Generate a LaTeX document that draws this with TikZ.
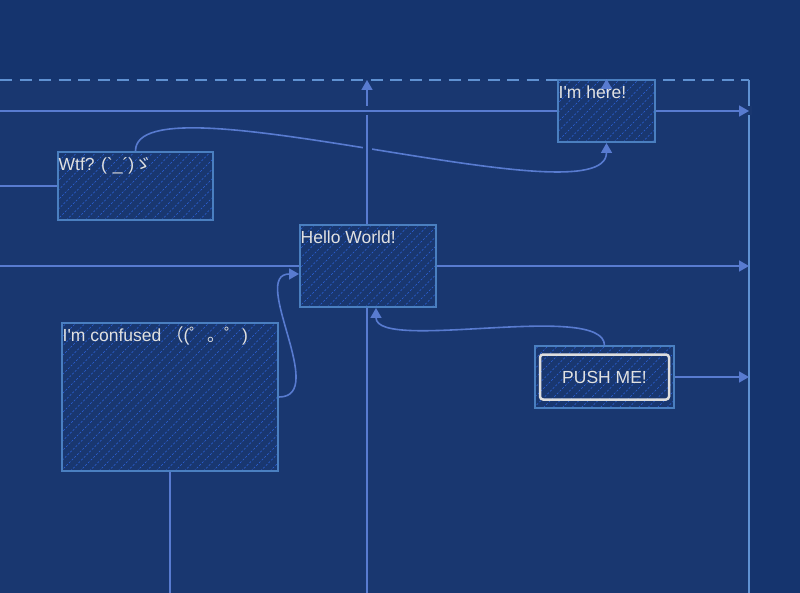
\documentclass[tikz,border=0pt]{standalone}
\usepackage{fontspec}
\setmainfont{Liberation Sans}[Ligatures=TeXOff]
\newfontfamily\cjk{Noto Sans CJK JP}
\usetikzlibrary{arrows.meta}
\pgfdeclarelayer{back}
\pgfdeclarelayer{lines}
\pgfsetlayers{back,lines,main}
\definecolor{bgout}{RGB}{21,52,110}
\definecolor{bgin}{RGB}{25,55,112}
\definecolor{framec}{RGB}{95,145,210}
\definecolor{boxc}{RGB}{74,127,192}
\definecolor{connc}{RGB}{88,123,208}
\definecolor{hatchc}{RGB}{45,100,220}
\definecolor{txtc}{RGB}{225,225,225}
\definecolor{btnc}{RGB}{222,222,222}
\begin{document}
\begin{tikzpicture}[x=1pt,y=-1pt,
  txtfont/.style={font=\fontsize{17.5pt}{20pt}\selectfont},
  frame/.style={draw=framec, line width=2pt},
  conn/.style={draw=connc, line width=1.6pt},
  arr/.style={conn, -{Triangle[length=10pt,width=11pt]}},
  halo/.style={draw=bgin, line width=9pt},
  hatchbox/.style={draw=boxc, line width=2pt, fill=bgin, inner sep=0pt,
    path picture={\foreach \k in {0,9.5,...,440}{
      \draw[hatchc, line width=0.65pt, dash pattern=on 2pt off 1.8pt]
        ([xshift=\k pt-210pt]path picture bounding box.south west) -- ++(220pt,220pt);}}},
  lbl/.style={txtfont, text=txtc, anchor=base west, inner sep=0pt, xshift=1.5pt, yshift=-19.5pt},
  btn/.style={draw=btnc, line width=2.5pt, rounded corners=3pt, minimum width=129pt,
    minimum height=45pt, inner sep=0pt, text=txtc, txtfont}
]
\useasboundingbox (0,0) rectangle (800,593);
\begin{pgfonlayer}{back}
  \fill[bgout] (0,0) rectangle (800,593);
  \fill[bgin] (0,80) rectangle (749,593);
\end{pgfonlayer}

% boxes
\node[hatchbox, minimum width=97pt, minimum height=62pt,
  label={[lbl]north west:I'm here!}] (here) at (606.5,111) {};
\node[hatchbox, minimum width=155pt, minimum height=68pt,
  label={[lbl]north west:Wtf? (\symbol{96}\_\symbol{180})\cjk{ゞ}}] (wtf) at (135.5,186) {};
\node[hatchbox, minimum width=136pt, minimum height=82pt,
  label={[lbl]north west:Hello World!}] (hello) at (368,266) {};
\node[hatchbox, minimum width=216pt, minimum height=148pt,
  label={[lbl]north west:I'm confused {\cjk （}({\cjk ゜。゜})}] (confused) at (170,397) {};
\node[hatchbox, minimum width=139pt, minimum height=61pt] (push) at (604.5,377) {};
\node[btn] (pushbtn) at (push.center) {PUSH ME!};

% coordinates
\coordinate (tl) at (0,80);
\coordinate (tr) at (749,80);
\coordinate (br) at (749,593);
\coordinate (vb) at (367,593);
\coordinate (vt) at (367,80);
\coordinate (l1) at (0,111);
\coordinate (r1) at (749,111);
\coordinate (l2) at (0,186);
\coordinate (l3) at (0,266);
\coordinate (r3) at (749,266);
\coordinate (pr) at (749,377);
\coordinate (cb) at (170,593);
\coordinate (ha) at (606.5,92);

\begin{pgfonlayer}{lines}
  \draw[frame, dash pattern=on 12pt off 7.5pt] (tl) -- (tr);
  \draw[frame] (tr) -- (br);
  \draw[arr] (wtf.north) .. controls +(0,-78) and +(0,80) .. (here.south);
  \draw[halo, shorten >=18pt] (vb) -- (vt);
  \draw[arr] (vb) -- (vt);
  \draw[halo, shorten >=-3pt] (l1) -- (r1);
  \draw[arr] (l1) -- (r1);
  \draw[conn] (l2) -- (wtf.west);
  \draw[arr] (l3) -- (r3);
  \draw[arr] (push.east) -- (pr);
  \draw[conn] (confused.south) -- (cb);
\end{pgfonlayer}

\draw[arr] (confused.east) .. controls +(50,0) and +(-50,0) .. ([yshift=-8pt]hello.west);
\draw[arr] (push.north) .. controls +(0,-45) and +(0,45) .. ([xshift=8pt]hello.south);
\draw[arr] (ha) -- (here.north);
\end{tikzpicture}
\end{document}
